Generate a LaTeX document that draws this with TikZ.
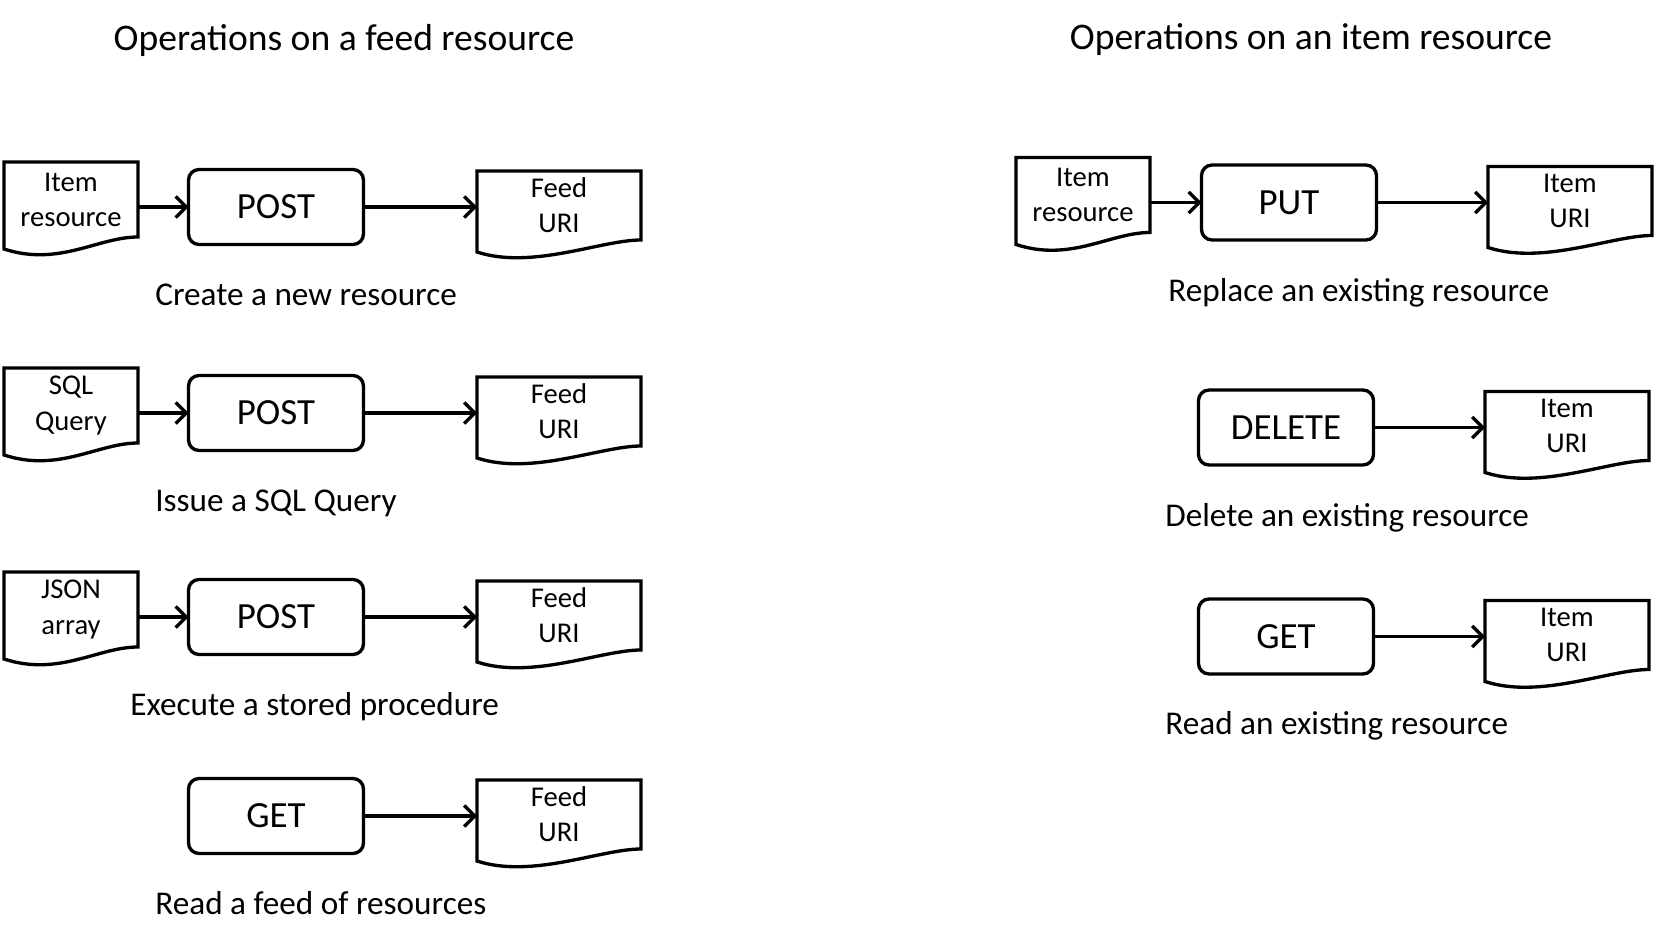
\documentclass[tikz,border=0pt]{standalone}
\usepackage{fontspec}
\setmainfont{Carlito}
\usetikzlibrary{arrows.meta,positioning,calc}

\tikzset{
  opbox/.style={draw, line width=1.9pt, rounded corners=6pt, minimum width=3.5cm,
    minimum height=1.5cm, inner sep=0pt, outer sep=0pt, font=\fontsize{21}{25}\selectfont},
  docbox/.style={minimum width=2.68cm, minimum height=1.5cm, inner sep=0pt, outer sep=0pt,
    align=center, font=\fontsize{16.3}{20}\selectfont},
  uribox/.style={docbox, minimum width=3.28cm, minimum height=1.38cm},
  docline/.style={line width=1.9pt, line join=miter},
  flow/.style={line width=1.9pt, -{Straight Barb[length=6pt,width=12pt]}},
  caption/.style={anchor=base west, inner sep=0pt, font=\fontsize{18.9}{23}\selectfont},
  heading/.style={anchor=base, inner sep=0pt, font=\fontsize{21.4}{26}\selectfont}
}
% outline of a document node: flat top, wavy bottom
\newcommand{\docshape}[1]{%
  \draw[docline] (#1.north west) -- (#1.north east) -- (#1.south east)
    .. controls ([xshift=-0.8cm]#1.south east) and ([xshift=1.1cm,yshift=-0.6cm]#1.south west)
    .. ([yshift=-0.24cm]#1.south west) -- cycle;}

\begin{document}
\begin{tikzpicture}[x=0.02cm, y=-0.02cm]
  \useasboundingbox (0,0) rectangle (1654,943);

  % feed resource
  \node[heading] (feedtitle) at (344,51) {Operations on a feed resource};
  \foreach \n/\y/\src/\what/\cx in {1/207/{Item\\resource}/{Create a new resource}/155,
      2/413/{SQL\\Query}/{Issue a SQL Query}/155,
      3/617/{JSON\\array}/{Execute a stored procedure}/130} {
    \node[opbox] (post\n) at (276,\y) {POST};
    \node[docbox] (src\n) at (71,\y-7.5) {\src};
    \node[uribox] (feed\n) at (559,\y-1.5) {Feed\\URI};
    \docshape{src\n}
    \docshape{feed\n}
    \draw[flow] (src\n.east |- post\n.west) -- (post\n.west);
    \draw[flow] (post\n.east) -- (post\n.east -| feed\n.west);
    \node[caption] (cap\n) at (\cx,\y+98) {\what};
  }
  \node[opbox] (get4) at (276,816) {GET};
  \node[uribox] (feed4) at (559,814.5) {Feed\\URI};
  \docshape{feed4}
  \draw[flow] (get4.east) -- (get4.east -| feed4.west);
  \node[caption] (cap4) at (155,914) {Read a feed of resources};

  % item resource
  \node[heading] (itemtitle) at (1311,50) {Operations on an item resource};
  \node[opbox] (put) at (1289,202.5) {PUT};
  \node[docbox] (putsrc) at (1083,195) {Item\\resource};
  \node[uribox] (puturi) at (1570,201) {Item\\URI};
  \docshape{putsrc}
  \docshape{puturi}
  \draw[flow] (putsrc.east |- put.west) -- (put.west);
  \draw[flow] (put.east) -- (put.east -| puturi.west);
  \node[caption] (putcap) at (1168,301) {Replace an existing resource};

  \node[opbox] (delete) at (1286,427.5) {DELETE};
  \node[uribox] (deluri) at (1567,426) {Item\\URI};
  \docshape{deluri}
  \draw[flow] (delete.east) -- (delete.east -| deluri.west);
  \node[caption] (delcap) at (1165,526) {Delete an existing resource};

  \node[opbox] (get) at (1286,636.5) {GET};
  \node[uribox] (geturi) at (1567,635) {Item\\URI};
  \docshape{geturi}
  \draw[flow] (get.east) -- (get.east -| geturi.west);
  \node[caption] (getcap) at (1165,734) {Read an existing resource};
\end{tikzpicture}
\end{document}
